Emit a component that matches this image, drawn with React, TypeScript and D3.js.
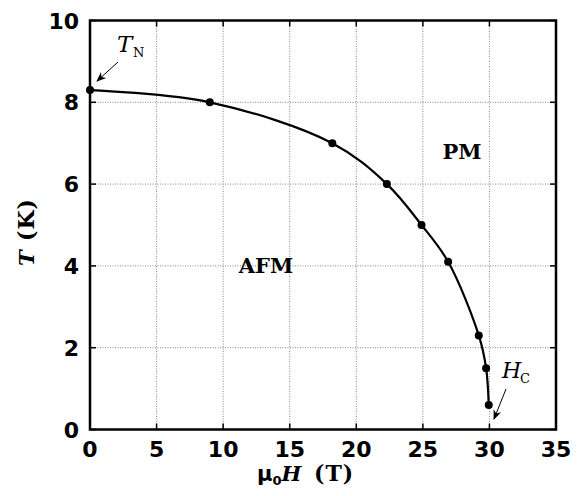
import React from "react";
import * as d3 from "d3";

const fieldT = [0, 9, 18.2, 22.3, 24.9, 26.9, 29.2, 29.75, 29.95];
const tempK = [8.3, 8.0, 7.0, 6.0, 5.0, 4.1, 2.3, 1.5, 0.6];
const xTicks = [0, 5, 10, 15, 20, 25, 30, 35];
const yTicks = [0, 2, 4, 6, 8, 10];

const W = 579, H = 496;
const m = { left: 90, right: 23, top: 20.5, bottom: 66.5 };

export default function App() {
  const x = d3.scaleLinear().domain([0, 35]).range([m.left, W - m.right]);
  const y = d3.scaleLinear().domain([0, 10]).range([H - m.bottom, m.top]);
  const pts = fieldT.map((f, i) => [f, tempK[i]] as [number, number]);
  const line = d3.line<[number, number]>().x(d => x(d[0])).y(d => y(d[1])).curve(d3.curveCatmullRom.alpha(0.5));
  const tickFont = "'DejaVu Sans', sans-serif";
  const labFont = "'DejaVu Serif', serif";
  const x0 = x(0), x1 = x(35), y0 = y(0), y1 = y(10);
  return (
    <svg width={W} height={H} style={{ position: "absolute", left: 0, top: 0, background: "#fff" }}>
      <defs>
        <marker id="ah" viewBox="0 0 10 10" refX="9" refY="5" markerWidth="10" markerHeight="10" orient="auto" markerUnits="userSpaceOnUse">
          <path d="M0,1 L10,5 L0,9 L3,5 Z" fill="#000" />
        </marker>
      </defs>
      {xTicks.slice(1, -1).map(t => (
        <line key={"gx" + t} x1={x(t)} x2={x(t)} y1={y0} y2={y1} stroke="#888" strokeWidth={1} strokeDasharray="1,1.5" />
      ))}
      {yTicks.slice(1, -1).map(t => (
        <line key={"gy" + t} x1={x0} x2={x1} y1={y(t)} y2={y(t)} stroke="#888" strokeWidth={1} strokeDasharray="1,1.5" />
      ))}
      {xTicks.map(t => (
        <g key={"tx" + t}>
          <line x1={x(t)} x2={x(t)} y1={y0} y2={y0 - 6} stroke="#000" strokeWidth={1.5} />
          <line x1={x(t)} x2={x(t)} y1={y1} y2={y1 + 6} stroke="#000" strokeWidth={1.5} />
          <text x={x(t)} y={y0 + 27} textAnchor="middle" fontFamily={tickFont} fontWeight="bold" fontSize={22}>{t}</text>
        </g>
      ))}
      {yTicks.map(t => (
        <g key={"ty" + t}>
          <line x1={x0} x2={x0 + 6} y1={y(t)} y2={y(t)} stroke="#000" strokeWidth={1.5} />
          <line x1={x1} x2={x1 - 6} y1={y(t)} y2={y(t)} stroke="#000" strokeWidth={1.5} />
          <text x={x0 - 11} y={y(t) + 8} textAnchor="end" fontFamily={tickFont} fontWeight="bold" fontSize={22}>{t}</text>
        </g>
      ))}
      <rect x={x0} y={y1} width={x1 - x0} height={y0 - y1} fill="none" stroke="#000" strokeWidth={2.5} />
      <path d={line(pts) || ""} fill="none" stroke="#000" strokeWidth={2.2} />
      {pts.map((p, i) => (
        <circle key={i} cx={x(p[0])} cy={y(p[1])} r={4} fill="#000" />
      ))}
      <text x={266} y={273} textAnchor="middle" fontFamily={labFont} fontWeight="bold" fontSize={21}>AFM</text>
      <text x={462} y={159} textAnchor="middle" fontFamily={labFont} fontWeight="bold" fontSize={21}>PM</text>
      <text x={117} y={52} fontFamily={labFont} fontStyle="italic" fontSize={23}>T</text>
      <text x={133} y={57} fontFamily={labFont} fontSize={13}>N</text>
      <line x1={118} y1={62} x2={97} y2={81} stroke="#000" strokeWidth={1} markerEnd="url(#ah)" />
      <text x={502} y={378} fontFamily={labFont} fontStyle="italic" fontSize={22}>H</text>
      <text x={520} y={383} fontFamily={labFont} fontSize={13}>C</text>
      <line x1={506} y1={389} x2={494} y2={419} stroke="#000" strokeWidth={1} markerEnd="url(#ah)" />
      <text x={257} y={481} fontFamily={labFont} fontWeight="bold" fontSize={22}>
        <tspan fontFamily="'DejaVu Sans', sans-serif" fontSize={21}>μ</tspan>
        <tspan fontSize={13} dy={4} fontFamily="'DejaVu Sans', sans-serif">0</tspan>
        <tspan dy={-4} fontStyle="italic" fontSize={21}>H</tspan>
        <tspan x={314} letterSpacing={1}>(T)</tspan>
      </text>
      <text transform="translate(34,266) rotate(-90)" fontFamily={labFont} fontWeight="bold" fontSize={22}>
        <tspan fontStyle="italic" fontSize={21}>T</tspan>
        <tspan x={25} letterSpacing={1}>(K)</tspan>
      </text>
    </svg>
  );
}
